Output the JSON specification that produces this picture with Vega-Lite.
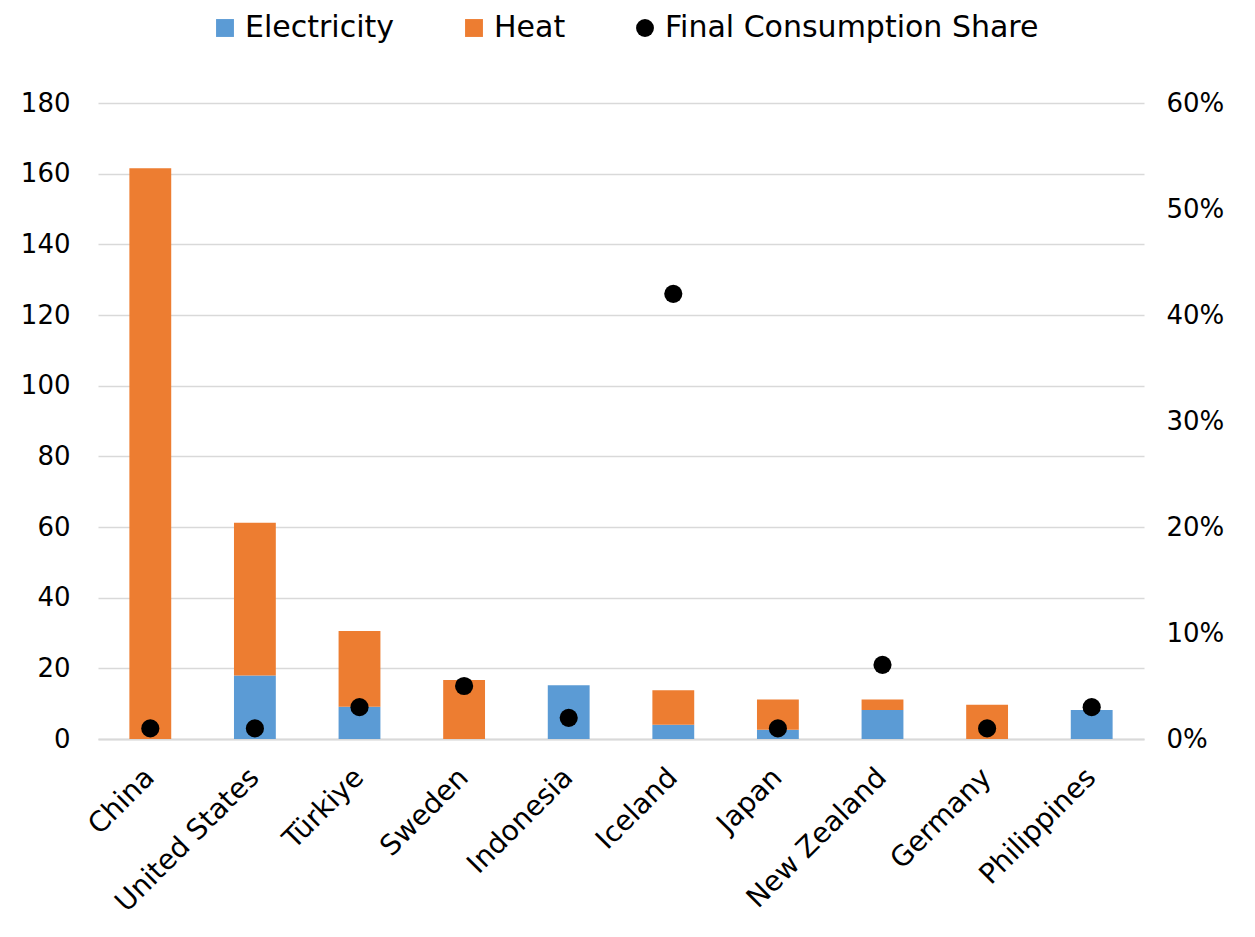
{
  "$schema": "https://vega.github.io/schema/vega-lite/v6.json",
  "width": 1046,
  "height": 636,
  "autosize": {"type": "none"},
  "padding": {"left": 98, "top": 103, "right": 111, "bottom": 198},
  "config": {
    "font": "DejaVu Sans",
    "view": {"stroke": null},
    "axis": {"labelFontSize": 26, "labelColor": "#000000", "labelFont": "DejaVu Sans", "ticks": false, "title": null, "labelLimit": 500},
    "legend": {"labelFont": "DejaVu Sans"}
  },
  "data": {
    "values": [
      {"country": "China", "series": "Electricity", "value": 0},
      {"country": "China", "series": "Heat", "value": 161.5},
      {"country": "China", "series": "Final Consumption Share", "value": 0.01},
      {"country": "United States", "series": "Electricity", "value": 18},
      {"country": "United States", "series": "Heat", "value": 43.2},
      {"country": "United States", "series": "Final Consumption Share", "value": 0.01},
      {"country": "Türkiye", "series": "Electricity", "value": 9.1},
      {"country": "Türkiye", "series": "Heat", "value": 21.5},
      {"country": "Türkiye", "series": "Final Consumption Share", "value": 0.03},
      {"country": "Sweden", "series": "Electricity", "value": 0},
      {"country": "Sweden", "series": "Heat", "value": 16.7},
      {"country": "Sweden", "series": "Final Consumption Share", "value": 0.05},
      {"country": "Indonesia", "series": "Electricity", "value": 15.2},
      {"country": "Indonesia", "series": "Heat", "value": 0},
      {"country": "Indonesia", "series": "Final Consumption Share", "value": 0.02},
      {"country": "Iceland", "series": "Electricity", "value": 4.0},
      {"country": "Iceland", "series": "Heat", "value": 9.8},
      {"country": "Iceland", "series": "Final Consumption Share", "value": 0.42},
      {"country": "Japan", "series": "Electricity", "value": 2.6},
      {"country": "Japan", "series": "Heat", "value": 8.6},
      {"country": "Japan", "series": "Final Consumption Share", "value": 0.01},
      {"country": "New Zealand", "series": "Electricity", "value": 8.2},
      {"country": "New Zealand", "series": "Heat", "value": 3.0},
      {"country": "New Zealand", "series": "Final Consumption Share", "value": 0.07},
      {"country": "Germany", "series": "Electricity", "value": 0},
      {"country": "Germany", "series": "Heat", "value": 9.7},
      {"country": "Germany", "series": "Final Consumption Share", "value": 0.01},
      {"country": "Philippines", "series": "Electricity", "value": 8.2},
      {"country": "Philippines", "series": "Heat", "value": 0},
      {"country": "Philippines", "series": "Final Consumption Share", "value": 0.03}
    ]
  },
  "layer": [
    {
      "transform": [{"filter": "datum.series !== 'Final Consumption Share'"}],
      "mark": {"type": "bar"},
      "encoding": {
        "x": {
          "field": "country", "type": "nominal",
          "sort": ["China", "United States", "Türkiye", "Sweden", "Indonesia", "Iceland", "Japan", "New Zealand", "Germany", "Philippines"],
          "scale": {"paddingInner": 0.6, "paddingOuter": 0.3},
          "axis": {"labelAngle": -45, "labelAlign": "right", "labelBaseline": "middle", "labelPadding": 34, "labelFontSize": 28, "labelLimit": 500, "domainColor": "#d9d9d9", "domainWidth": 2, "grid": false}
        },
        "y": {
          "field": "value", "type": "quantitative", "stack": "zero",
          "scale": {"domain": [0, 180]},
          "axis": {"values": [0, 20, 40, 60, 80, 100, 120, 140, 160, 180], "domain": false, "grid": true, "gridColor": "#d9d9d9", "gridWidth": 1.5, "labelPadding": 28}
        },
        "color": {
          "field": "series", "type": "nominal",
          "scale": {"domain": ["Electricity", "Heat", "Final Consumption Share"], "range": ["#5B9BD5", "#ED7D31", "#000000"]},
          "legend": {
            "title": null, "orient": "none", "legendX": 112, "legendY": -90, "direction": "horizontal",
            "labelFontSize": 30, "labelColor": "#000000", "labelLimit": 600, "symbolSize": 320, "symbolType": "square", "symbolStrokeWidth": 0,
            "columnPadding": 64, "labelOffset": 5, "padding": 0,
            "encode": {"symbols": {"update": {"shape": {"signal": "datum.value === 'Final Consumption Share' ? 'circle' : 'square'"}}}}
          }
        },
        "order": {"field": "series", "sort": "ascending"}
      }
    },
    {
      "transform": [{"filter": "datum.series === 'Final Consumption Share'"}],
      "mark": {"type": "circle", "size": 330, "opacity": 1},
      "encoding": {
        "x": {"field": "country", "type": "nominal", "sort": ["China", "United States", "Türkiye", "Sweden", "Indonesia", "Iceland", "Japan", "New Zealand", "Germany", "Philippines"]},
        "y": {
          "field": "value", "type": "quantitative",
          "scale": {"domain": [0, 0.6]},
          "axis": {"orient": "right", "format": ".0%", "values": [0, 0.1, 0.2, 0.3, 0.4, 0.5, 0.6], "domain": false, "grid": false, "labelPadding": 22}
        },
        "color": {"field": "series", "type": "nominal"}
      }
    }
  ],
  "resolve": {"scale": {"y": "independent"}}
}
